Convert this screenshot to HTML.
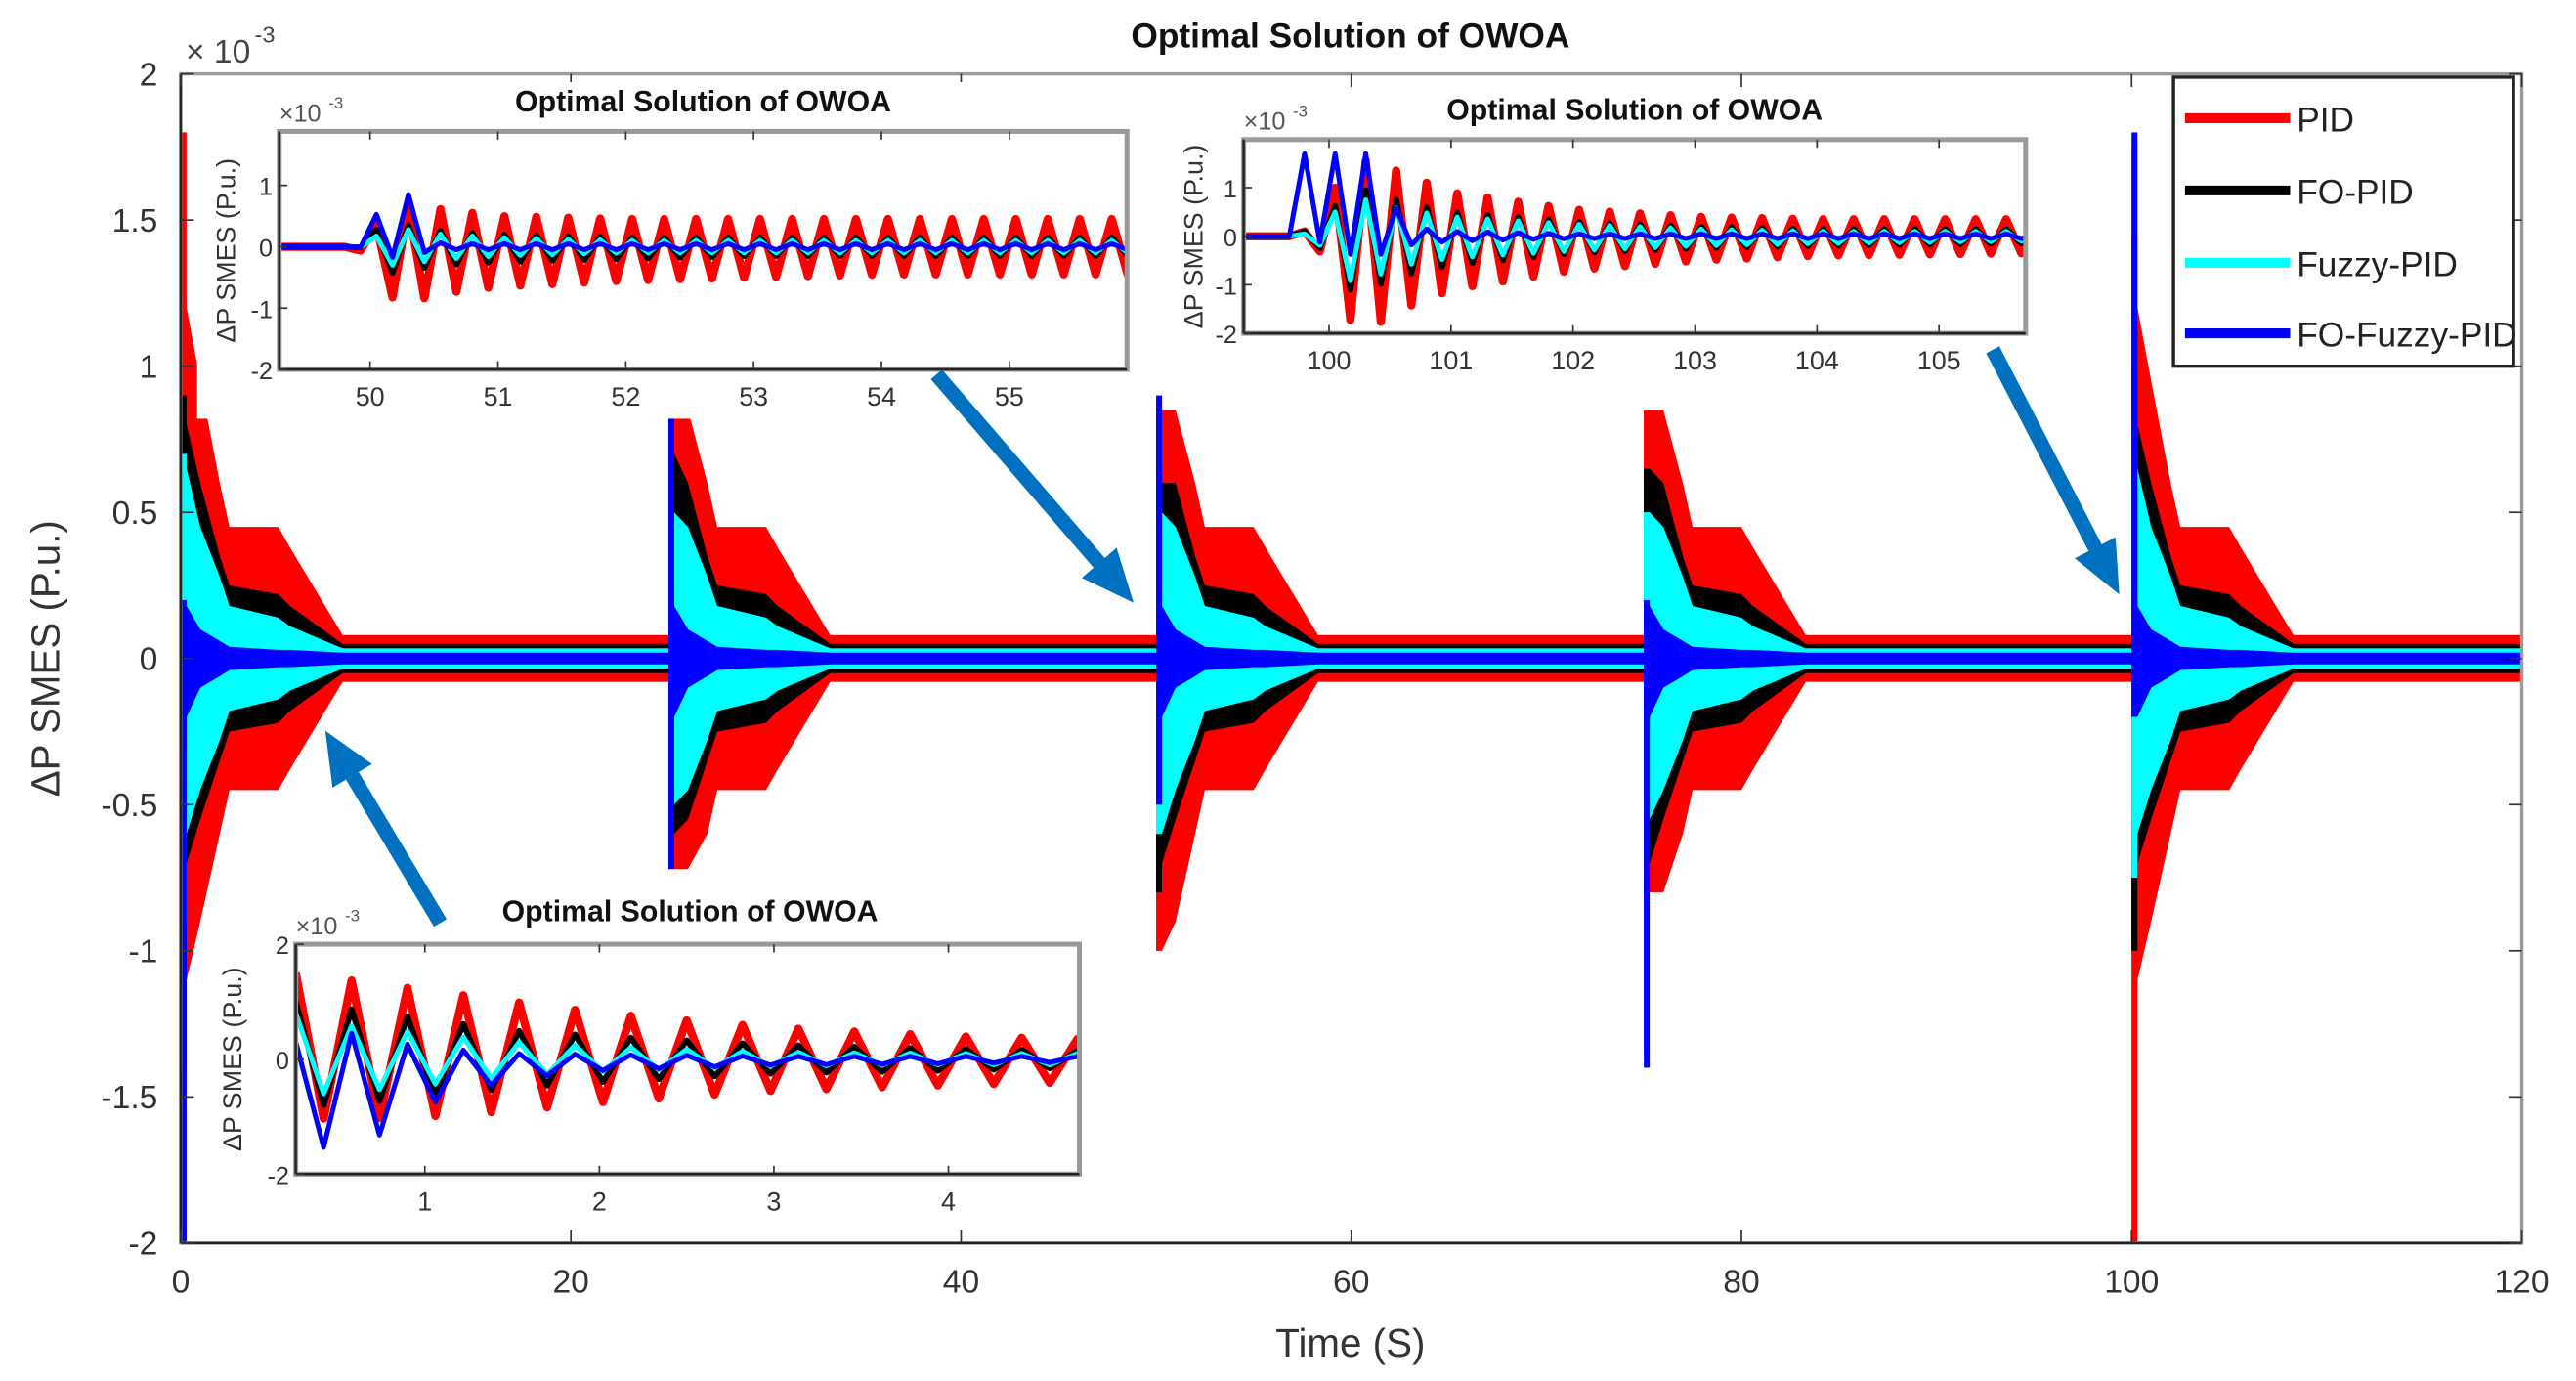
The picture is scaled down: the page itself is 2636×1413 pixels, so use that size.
<!DOCTYPE html>
<html><head><meta charset="utf-8"><style>
html,body{margin:0;padding:0;background:#fff;}
svg{display:block;font-family:"Liberation Sans",sans-serif;}
</style></head><body>
<svg id="chart" width="2636" height="1413" viewBox="0 0 1568 841" preserveAspectRatio="none" xmlns="http://www.w3.org/2000/svg">
<g id="root"></g>
</svg>
<script>
// ---- main chart data ----
const seriesNames = ["PID","FO-PID","Fuzzy-PID","FO-Fuzzy-PID"];
const seriesColors = ["#ff0000","#000000","#00ffff","#0000ff"];
const burstTimes = [0,25,50,75,100];
const shapeDt = [0.3,1,2,2.5,5,5.6,8.3];
const shapeUp = [
  [1.2,0.95,0.6,0.45,0.45,0.38,0.08],
  [0.8,0.6,0.35,0.25,0.22,0.18,0.05],
  [0.65,0.45,0.28,0.18,0.14,0.11,0.035],
  [0.18,0.1,0.06,0.04,0.03,0.03,0.02]
];
const shapeLo = [
  [-1.1,-0.9,-0.6,-0.45,-0.45,-0.38,-0.08],
  [-0.7,-0.55,-0.35,-0.25,-0.22,-0.18,-0.05],
  [-0.6,-0.45,-0.28,-0.18,-0.14,-0.11,-0.035],
  [-0.2,-0.1,-0.06,-0.04,-0.03,-0.03,-0.02]
];
const peakUp = [[1.8,0.85,0.85,0.85,1.45],[0.9,0.7,0.6,0.65,1.0],[0.7,0.5,0.5,0.5,0.8],[0.2,0.85,0.9,0.2,1.8]];
const peakLo = [[-2,-0.72,-1.0,-0.8,-2],[-1.4,-0.6,-0.8,-0.7,-1.0],[-0.9,-0.5,-0.6,-0.55,-0.75],[-2,-0.72,-0.5,-1.4,-0.2]];
const steadyUp = [0.08,0.05,0.035,0.02];
const steadyLo = [-0.08,-0.05,-0.035,-0.02];
const xTicks = [0,20,40,60,80,100,120];
const yTicks = [-2,-1.5,-1,-0.5,0,0.5,1,1.5,2];
const yTickLabels = ["-2","-1.5","-1","-0.5","0","0.5","1","1.5","2"];

// ---- inset data ----
const inset1Times = [49.3,49.8,49.9,50.0,50.1,50.2,50.3,50.4,50.6,51,52,53,54,55.92];
const inset1Up = [
  [0,0,0.1,0.2,0.5,0.6,0.65,0.65,0.6,0.5,0.45,0.45,0.45,0.45],
  [0,0,0.1,0.2,0.35,0.4,0.35,0.3,0.25,0.2,0.15,0.15,0.15,0.15],
  [0,0,0.05,0.1,0.25,0.3,0.28,0.22,0.2,0.15,0.1,0.1,0.1,0.1],
  [0,0,0.85,0.2,0.85,0.3,0.85,0.1,0.05,0.05,0.05,0.05,0.05,0.05]
];
const inset1Lo = [
  [0,0,-0.05,-0.1,-0.3,-1.0,-0.95,-0.85,-0.75,-0.65,-0.55,-0.5,-0.45,-0.45],
  [0,0,0,-0.05,-0.2,-0.5,-0.45,-0.35,-0.3,-0.25,-0.2,-0.15,-0.15,-0.15],
  [0,0,0,-0.05,-0.15,-0.35,-0.3,-0.25,-0.2,-0.15,-0.1,-0.1,-0.1,-0.1],
  [0,0,0,-0.05,-0.1,-0.2,-0.15,-0.1,-0.05,-0.05,-0.05,-0.05,-0.05,-0.05]
];
const inset1XTicks = [50,51,52,53,54,55];
const inset1YTicks = [-2,-1,0,1];

const inset2Times = [99.3,99.7,99.8,100,100.2,100.4,100.6,101,102,103,104,105.71];
const inset2Up = [
  [0,0,0.1,0.8,1.6,1.5,1.3,0.9,0.55,0.4,0.35,0.35],
  [0,0,0.1,0.5,1.0,0.9,0.7,0.5,0.3,0.2,0.15,0.15],
  [0,0,0.05,0.4,0.8,0.7,0.55,0.4,0.25,0.15,0.1,0.1],
  [0,0,1.7,1.7,1.7,1.7,0.2,0.1,0.05,0.05,0.05,0.05]
];
const inset2Lo = [
  [0,0,0,-0.5,-1.9,-1.8,-1.5,-1.1,-0.7,-0.5,-0.4,-0.35],
  [0,0,0,-0.4,-1.2,-1.0,-0.8,-0.6,-0.35,-0.25,-0.2,-0.15],
  [0,0,0,-0.3,-1.0,-0.8,-0.6,-0.45,-0.3,-0.2,-0.15,-0.1],
  [0,0,0,-0.2,-0.4,-0.4,-0.2,-0.1,-0.05,-0.05,-0.05,-0.05]
];
const inset2XTicks = [100,101,102,103,104,105];
const inset2YTicks = [-2,-1,0,1];

const inset3Times = [0.26,0.5,1,1.5,2,3,4,4.75];
const inset3Up = [
  [1.5,1.4,1.2,1.0,0.8,0.55,0.4,0.35],
  [1.0,0.9,0.7,0.5,0.4,0.25,0.18,0.15],
  [0.8,0.6,0.45,0.3,0.22,0.12,0.1,0.1],
  [0.3,0.5,0.2,0.1,0.08,0.05,0.05,0.05]
];
const inset3Lo = [
  [-1.0,-1.05,-1.0,-0.9,-0.75,-0.55,-0.45,-0.4],
  [-0.8,-0.8,-0.65,-0.5,-0.4,-0.25,-0.2,-0.15],
  [-0.6,-0.6,-0.45,-0.3,-0.22,-0.12,-0.1,-0.1],
  [-1.0,-1.8,-0.8,-0.35,-0.2,-0.1,-0.08,-0.05]
];
const inset3XTicks = [1,2,3,4];
const inset3YTicks = [-2,0,2];
const insetPeriods = [0.25,0.25,0.32];

const NS="http://www.w3.org/2000/svg";
const root=document.getElementById('root');
function el(tag,attrs,parent,text){const e=document.createElementNS(NS,tag);for(const k in attrs)e.setAttribute(k,attrs[k]);if(text!==undefined)e.textContent=text;(parent||root).appendChild(e);return e;}

// main axes
const X0=110,X1=1535,Y0=757,Y1=45;
const xs=t=>X0+(t-0)/(120-0)*(X1-X0);
const ys=v=>Y0+(v-(-2))/(2-(-2))*(Y1-Y0);

const plot=el('g',{});


const mcp=el('clipPath',{id:'mainclip'},plot);
el('rect',{x:X0,y:Y1,width:X1-X0,height:Y0-Y1},mcp);
const pg=el('g',{'clip-path':'url(#mainclip)'},plot);
for(let s=0;s<4;s++){
  const g=el('g',{},pg);
  
  
  const band=el('rect',{x:xs(0),y:ys(steadyUp[s]),width:xs(120)-xs(0),height:ys(steadyLo[s])-ys(steadyUp[s]),fill:seriesColors[s]},g);
  
  
  for(let b=0;b<burstTimes.length;b++){
    const t0=burstTimes[b];
    let up=[[t0,peakUp[s][b]]],lo=[[t0,peakLo[s][b]]];
    for(let i=0;i<shapeDt.length;i++){up.push([t0+shapeDt[i],Math.min(shapeUp[s][i],peakUp[s][b])]);lo.push([t0+shapeDt[i],Math.max(shapeLo[s][i],peakLo[s][b])]);}
    const pts=up.concat(lo.reverse()).map(p=>xs(p[0]).toFixed(1)+','+ys(p[1]).toFixed(1)).join(' ');
    const poly=el('polygon',{points:pts,fill:seriesColors[s]},g);
    
    
    const spike=el('rect',{x:xs(t0),y:ys(peakUp[s][b]),width:Math.max(3,xs(t0+0.3)-xs(t0)),height:ys(peakLo[s][b])-ys(peakUp[s][b]),fill:seriesColors[s]},g);
    
    
  }
}
el('rect',{x:X0,y:Y1,width:X1-X0,height:Y0-Y1,fill:'none',stroke:'#999',"stroke-width":2},plot);
el('line',{x1:X0,y1:Y1,x2:X0,y2:Y0,stroke:'#222',"stroke-width":1.5},plot);
el('line',{x1:X0,y1:Y0,x2:X1,y2:Y0,stroke:'#222',"stroke-width":1.5},plot);
const xa=el('g',{});
xTicks.forEach(t=>{el('line',{x1:xs(t),y1:Y0,x2:xs(t),y2:Y0-8,stroke:'#333'},xa);el('line',{x1:xs(t),y1:Y1,x2:xs(t),y2:Y1+8,stroke:'#333'},xa);
  const tl=el('text',{x:xs(t),y:Y0+30,'font-size':20,'text-anchor':'middle',fill:'#333'},xa,String(t));});
const ya=el('g',{});
yTicks.forEach((v,i)=>{el('line',{x1:X0,y1:ys(v),x2:X0+8,y2:ys(v),stroke:'#333'},ya);el('line',{x1:X1,y1:ys(v),x2:X1-8,y2:ys(v),stroke:'#333'},ya);
  const tl=el('text',{x:X0-14,y:ys(v)+7,'font-size':20,'text-anchor':'end',fill:'#333'},ya,yTickLabels[i]);});
let t;
t=el('text',{x:113,y:38,'font-size':20,fill:'#444'},root,'× 10');
el('text',{x:155,y:26,'font-size':14,fill:'#444'},root,'-3');
t=el('text',{x:822,y:29,'font-size':21,'font-weight':'bold','text-anchor':'middle',fill:'#111'},root,'Optimal Solution of OWOA');
t=el('text',{x:822,y:826,'font-size':24,'text-anchor':'middle',fill:'#333'},root,'Time (S)');
t=el('text',{x:36,y:401,'font-size':24,'text-anchor':'middle',fill:'#333',transform:'rotate(-90 36 401)'},root,'ΔP SMES (P.u.)');

function envAt(times,arr,x){
  for(let i=0;i<times.length-1;i++){if(x<=times[i+1]){const f=(x-times[i])/(times[i+1]-times[i]);return arr[i]+(arr[i+1]-arr[i])*f;}}
  return arr[arr.length-1];
}
// insets
function inset(name,bx0,by0,bx1,by1,xmin,xmax,ymin,ymax,times,ups,los,xt,yt,title,tx,ty,labx,period){
  const g=el('g',{});
  
  
  const sx=v=>bx0+(v-xmin)/(xmax-xmin)*(bx1-bx0);
  const sy=v=>by1-(v-ymin)/(ymax-ymin)*(by1-by0);
  el('rect',{x:bx0-50,y:by0-30,width:bx1-bx0+55,height:by1-by0+60,fill:'#fff'},g);
  const cid=name+'-clip';
  const cp=el('clipPath',{id:cid},g);el('rect',{x:bx0,y:by0,width:bx1-bx0,height:by1-by0},cp);
  const dg=el('g',{'clip-path':'url(#'+cid+')'},g);
  const widths=[5,3.5,3,3];
  for(let s=0;s<4;s++){
    const pts=[];
    let k=0;
    for(let x=times[0];x<=times[times.length-1]+period;x+=period/2,k++){
      const v=(k%2===0)?envAt(times,ups[s],x):envAt(times,los[s],x);
      pts.push(sx(x).toFixed(1)+','+sy(v).toFixed(1));
    }
    const p=el('polyline',{points:pts.join(' '),fill:'none',stroke:seriesColors[s],'stroke-width':widths[s],'stroke-linejoin':'round'},dg);
    
    
  }
  el('rect',{x:bx0,y:by0,width:bx1-bx0,height:by1-by0,fill:'none',stroke:'#999','stroke-width':3},g);
  el('line',{x1:bx0,y1:by0,x2:bx0,y2:by1,stroke:'#222','stroke-width':1.5},g);
  el('line',{x1:bx0,y1:by1,x2:bx1,y2:by1,stroke:'#222','stroke-width':1.5},g);
  xt.forEach(v=>{el('line',{x1:sx(v),y1:by1,x2:sx(v),y2:by1-5,stroke:'#333'},g);el('line',{x1:sx(v),y1:by0,x2:sx(v),y2:by0+5,stroke:'#333'},g);
    el('text',{x:sx(v),y:by1+22,'font-size':16,'text-anchor':'middle',fill:'#333'},g,String(v));});
  yt.forEach(v=>{el('line',{x1:bx0,y1:sy(v),x2:bx0+5,y2:sy(v),stroke:'#333'},g);
    el('text',{x:bx0-4,y:sy(v)+6,'font-size':15,'text-anchor':'end',fill:'#333'},g,String(v));});
  el('text',{x:bx0,y:by0-6,'font-size':15,fill:'#555'},g,'×10');
  el('text',{x:bx0+30,y:by0-14,'font-size':10,fill:'#555'},g,'-3');
  el('text',{x:tx,y:ty,'font-size':18,'font-weight':'bold','text-anchor':'middle',fill:'#111'},g,title);
  el('text',{x:labx,y:(by0+by1)/2,'font-size':16,'text-anchor':'middle',fill:'#333',transform:'rotate(-90 '+labx+' '+((by0+by1)/2)+')'},g,'ΔP SMES (P.u.)');
}
inset('inset-t50',170,80,686,225,49.29,55.92,-2,1.88,inset1Times,inset1Up,inset1Lo,inset1XTicks,inset1YTicks,'Optimal Solution of OWOA',428,68,143,insetPeriods[0]);
inset('inset-t100',757,85,1233,203,99.3,105.71,-2,1.99,inset2Times,inset2Up,inset2Lo,inset2XTicks,inset2YTicks,'Optimal Solution of OWOA',995,73,732,insetPeriods[1]);
inset('inset-t0',180,575,657,715,0.26,4.75,-2,2,inset3Times,inset3Up,inset3Lo,inset3XTicks,inset3YTicks,'Optimal Solution of OWOA',420,561,147,insetPeriods[2]);

// arrows
function arrow(x1,y1,x2,y2,name){
  const ang=Math.atan2(y2-y1,x2-x1),hl=32,hw=14;
  const bx=x2-hl*Math.cos(ang),by=y2-hl*Math.sin(ang);
  const g=el('g',{});
  
  
  el('line',{x1:x1,y1:y1,x2:bx,y2:by,stroke:'#0070c0','stroke-width':9},g);
  const px=-Math.sin(ang)*hw,py=Math.cos(ang)*hw;
  el('polygon',{points:`${x2},${y2} ${bx+px},${by+py} ${bx-px},${by-py}`,fill:'#0070c0'},g);
}
arrow(570,228,690,367,'arrow-to-t50');
arrow(1213,213,1290,362,'arrow-to-t100');
arrow(268,562,198,445,'arrow-to-t0');

// legend
const lg=el('g',{});


el('rect',{x:1323,y:47,width:207,height:176,fill:'#fff',stroke:'#222','stroke-width':2},lg);
const ly=[72,116,160,203];
seriesNames.forEach((n,i)=>{
  const e=el('g',{},lg);
  
  
  el('line',{x1:1330,y1:ly[i],x2:1394,y2:ly[i],stroke:seriesColors[i],'stroke-width':6},e);
  el('text',{x:1398,y:ly[i]+8,'font-size':21,fill:'#222'},e,n);
});
</script>
</body></html>
